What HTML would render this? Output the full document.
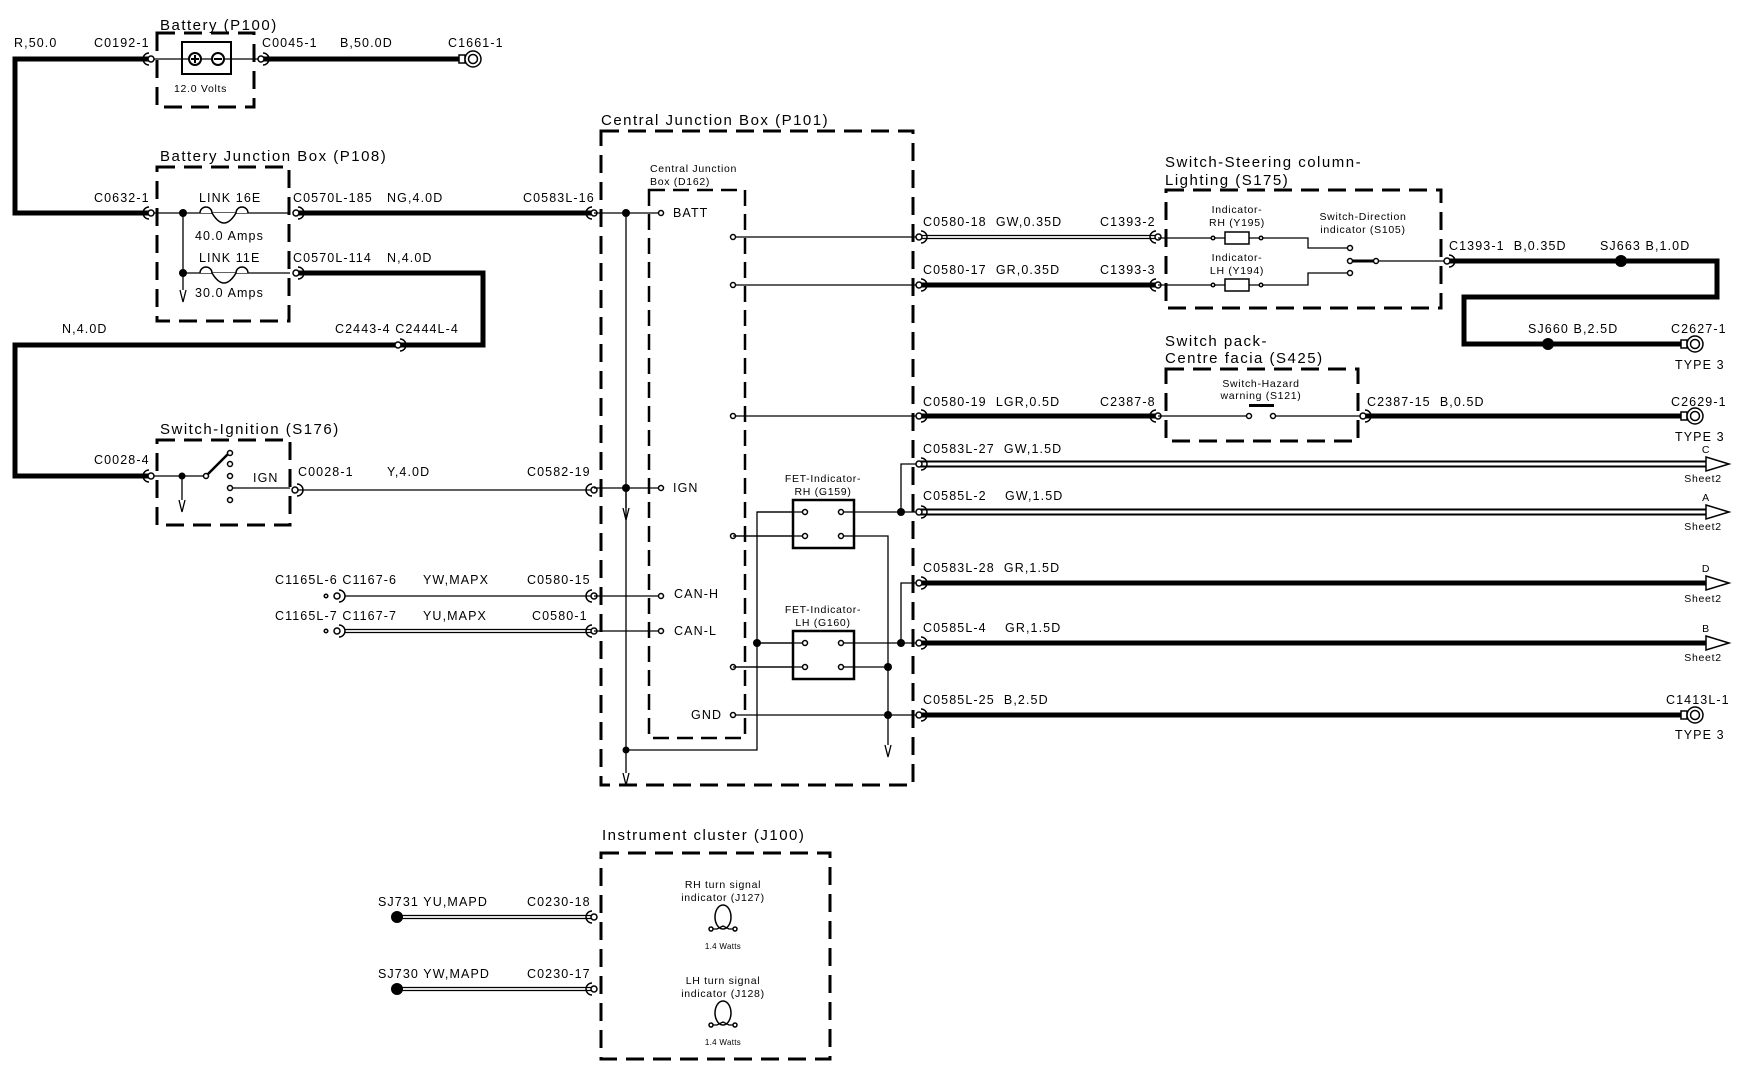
<!DOCTYPE html>
<html><head><meta charset="utf-8"><style>
html,body{margin:0;padding:0;background:#fff;}
svg{display:block;}
text{font-family:"Liberation Sans",Arial,sans-serif;font-size:12.5px;letter-spacing:1.1px;fill:#000;white-space:pre;}
.t{font-size:15px;letter-spacing:1.5px;}
.s{font-size:10.5px;letter-spacing:0.7px;}
.xs{font-size:8px;letter-spacing:0.3px;}
.box{fill:none;stroke:#000;stroke-width:3;stroke-dasharray:18 9;}
.thk{fill:none;stroke:#000;stroke-width:5;}
.thn{fill:none;stroke:#000;stroke-width:1.3;}
.pin{fill:#fff;stroke:#000;stroke-width:1.5;}
.dot{fill:#000;}
</style></head><body>
<svg width="1750" height="1072" viewBox="0 0 1750 1072" xmlns="http://www.w3.org/2000/svg">
<defs>
<g id="cn"><circle cx="0" cy="0" r="3" fill="#fff" stroke="#000" stroke-width="1.5"/><path d="M-2,-6 A6,6 0 0 0 -2,6" fill="none" stroke="#000" stroke-width="1.5"/></g>
<g id="cnr"><circle cx="0" cy="0" r="3" fill="#fff" stroke="#000" stroke-width="1.5"/><path d="M2,-6 A6,6 0 0 1 2,6" fill="none" stroke="#000" stroke-width="1.5"/></g>
<g id="t3"><rect x="-9" y="-4" width="6" height="8" fill="#fff" stroke="#000" stroke-width="1.5"/><circle cx="5" cy="0" r="8" fill="#fff" stroke="#000" stroke-width="1.5"/><circle cx="5" cy="0" r="4.5" fill="none" stroke="#000" stroke-width="1.5"/></g>
<g id="gnd"><path d="M-3,0 L0,12 L3,0" fill="none" stroke="#000" stroke-width="1.3"/></g>
<g id="arr"><path d="M0,-7 L23,0 L0,7 Z" fill="#fff" stroke="#000" stroke-width="1.5"/></g>
</defs>

<!-- Battery -->
<text x="160" y="30" class="t">Battery (P100)</text>
<rect x="157" y="33" width="97" height="74" class="box"/>
<rect x="182" y="42" width="49" height="32" fill="none" stroke="#000" stroke-width="2"/>
<line x1="151" y1="59" x2="261" y2="59" class="thn"/>
<circle cx="195" cy="59" r="6" fill="#fff" stroke="#000" stroke-width="2"/><line x1="191" y1="59" x2="199" y2="59" stroke="#000" stroke-width="2"/><line x1="195" y1="55" x2="195" y2="63" stroke="#000" stroke-width="2"/>
<circle cx="218" cy="59" r="6" fill="#fff" stroke="#000" stroke-width="2"/><line x1="214" y1="59" x2="222" y2="59" stroke="#000" stroke-width="2"/>
<text x="174" y="92" class="s">12.0 Volts</text>
<text x="14" y="47">R,50.0</text><text x="94" y="47">C0192-1</text>
<text x="262" y="47">C0045-1</text><text x="340" y="47">B,50.0D</text><text x="448" y="47">C1661-1</text>
<polyline points="151,59 15,59 15,213 151,213" class="thk"/>
<line x1="261" y1="59" x2="462" y2="59" class="thk"/>
<use href="#cn" x="151" y="59"/><use href="#cnr" x="261" y="59"/><use href="#t3" x="468" y="59"/>

<!-- Battery Junction Box -->
<text x="160" y="161" class="t">Battery Junction Box (P108)</text>
<rect x="157" y="167" width="132" height="154" class="box"/>
<line x1="151" y1="213" x2="290" y2="213" class="thn"/>
<line x1="183" y1="273" x2="290" y2="273" class="thn"/>
<line x1="183" y1="213" x2="183" y2="290" class="thn"/>
<use href="#gnd" x="183" y="290"/>
<circle cx="183" cy="213" r="4" class="dot"/><circle cx="183" cy="273" r="4" class="dot"/>
<path d="M200,213 a6,6 0 1 1 12,0 q12,20 24,0 a6,6 0 1 1 12,0" fill="#fff" stroke="#000" stroke-width="1.5"/>
<path d="M200,273 a6,6 0 1 1 12,0 q12,20 24,0 a6,6 0 1 1 12,0" fill="#fff" stroke="#000" stroke-width="1.5"/>
<text x="199" y="202">LINK 16E</text><text x="195" y="240">40.0 Amps</text>
<text x="199" y="262">LINK 11E</text><text x="195" y="297">30.0 Amps</text>
<text x="94" y="202">C0632-1</text>
<text x="293" y="202">C0570L-185</text><text x="387" y="202">NG,4.0D</text><text x="523" y="202">C0583L-16</text>
<text x="293" y="262">C0570L-114</text><text x="387" y="262">N,4.0D</text>
<line x1="296" y1="213" x2="594" y2="213" class="thk"/>
<polyline points="296,273 483,273 483,345 400,345" class="thk"/>
<polyline points="396,345 15,345 15,476 151,476" class="thk"/>
<use href="#cn" x="151" y="213"/><use href="#cnr" x="296" y="213"/><use href="#cnr" x="296" y="273"/><use href="#cn" x="594" y="213"/>
<use href="#cnr" x="398" y="345"/>
<text x="62" y="333">N,4.0D</text><text x="335" y="333">C2443-4 C2444L-4</text>

<!-- Switch ignition -->
<text x="160" y="434" class="t">Switch-Ignition (S176)</text>
<rect x="157" y="440" width="133" height="85" class="box"/>
<line x1="151" y1="476" x2="206" y2="476" class="thn"/>
<line x1="182" y1="476" x2="182" y2="500" class="thn"/><use href="#gnd" x="182" y="500"/>
<circle cx="182" cy="476" r="3.5" class="dot"/>
<line x1="206" y1="476" x2="230" y2="452" stroke="#000" stroke-width="2.5"/>
<circle cx="206" cy="476" r="2.5" class="pin"/>
<circle cx="230" cy="453" r="2.5" class="pin"/><circle cx="230" cy="464" r="2.5" class="pin"/><circle cx="230" cy="476" r="2.5" class="pin"/><circle cx="230" cy="488" r="2.5" class="pin"/><circle cx="230" cy="500" r="2.5" class="pin"/>
<line x1="233" y1="488" x2="290" y2="488" class="thn"/>
<text x="253" y="482">IGN</text>
<text x="94" y="464">C0028-4</text>
<text x="298" y="476">C0028-1</text><text x="387" y="476">Y,4.0D</text><text x="527" y="476">C0582-19</text>
<line x1="295" y1="490" x2="594" y2="490" class="thn"/>
<use href="#cn" x="151" y="476"/><use href="#cnr" x="295" y="490"/><use href="#cn" x="594" y="490"/>

<!-- CAN -->
<text x="275" y="584">C1165L-6 C1167-6</text><text x="423" y="584">YW,MAPX</text><text x="527" y="584">C0580-15</text>
<text x="275" y="620">C1165L-7 C1167-7</text><text x="423" y="620">YU,MAPX</text><text x="532" y="620">C0580-1</text>
<line x1="345" y1="596" x2="594" y2="596" class="thn"/>
<line x1="345" y1="629.5" x2="594" y2="629.5" class="thn"/><line x1="345" y1="632.5" x2="594" y2="632.5" class="thn"/>
<use href="#cnr" x="337" y="596"/><use href="#cnr" x="337" y="631"/>
<circle cx="326" cy="596" r="1.8" class="pin"/><circle cx="326" cy="631" r="1.8" class="pin"/>
<use href="#cn" x="594" y="596"/><use href="#cn" x="594" y="631"/>

<!-- Central Junction Box -->
<text x="601" y="125" class="t">Central Junction Box (P101)</text>
<rect x="601" y="131" width="312" height="654" class="box"/>
<rect x="649" y="190" width="96" height="548" class="box" style="stroke-width:2.5;stroke-dasharray:16 8"/>
<text x="650" y="172" class="s">Central Junction</text><text x="650" y="185" class="s">Box (D162)</text>
<line x1="594" y1="213" x2="661" y2="213" class="thn"/>
<line x1="626" y1="213" x2="626" y2="773" class="thn"/><use href="#gnd" x="626" y="773"/>
<line x1="594" y1="488" x2="661" y2="488" class="thn"/>
<line x1="626" y1="488" x2="626" y2="508" class="thn"/><use href="#gnd" x="626" y="508"/>
<line x1="594" y1="596" x2="661" y2="596" class="thn"/>
<line x1="594" y1="631" x2="661" y2="631" class="thn"/>
<circle cx="626" cy="213" r="4" class="dot"/><circle cx="626" cy="488" r="4" class="dot"/><circle cx="626" cy="750" r="3.5" class="dot"/>
<circle cx="661" cy="213" r="2.5" class="pin"/><circle cx="661" cy="488" r="2.5" class="pin"/><circle cx="661" cy="596" r="2.5" class="pin"/><circle cx="661" cy="631" r="2.5" class="pin"/>
<text x="673" y="217">BATT</text><text x="673" y="492">IGN</text><text x="674" y="598">CAN-H</text><text x="674" y="635">CAN-L</text><text x="691" y="719">GND</text>
<line x1="733" y1="237" x2="919" y2="237" class="thn"/>
<line x1="733" y1="285" x2="919" y2="285" class="thn"/>
<line x1="733" y1="416" x2="919" y2="416" class="thn"/>
<line x1="733" y1="536" x2="805" y2="536" class="thn"/>
<line x1="733" y1="667" x2="805" y2="667" class="thn"/>
<line x1="733" y1="715" x2="919" y2="715" class="thn"/>
<circle cx="733" cy="237" r="2.5" class="pin"/><circle cx="733" cy="285" r="2.5" class="pin"/><circle cx="733" cy="416" r="2.5" class="pin"/><circle cx="733" cy="536" r="2.5" class="pin"/><circle cx="733" cy="667" r="2.5" class="pin"/><circle cx="733" cy="715" r="2.5" class="pin"/>
<polyline points="626,750 757,750 757,512 805,512" class="thn"/>
<line x1="757" y1="643" x2="805" y2="643" class="thn"/>
<line x1="841" y1="512" x2="919" y2="512" class="thn"/>
<polyline points="901,512 901,464 919,464" class="thn"/>
<line x1="841" y1="643" x2="919" y2="643" class="thn"/>
<polyline points="901,643 901,583 919,583" class="thn"/>
<polyline points="841,536 888,536 888,745" class="thn"/><use href="#gnd" x="888" y="745"/>
<line x1="841" y1="667" x2="888" y2="667" class="thn"/>
<rect x="793" y="500" width="61" height="48" fill="#fff" stroke="#000" stroke-width="2.5"/>
<rect x="793" y="631" width="61" height="48" fill="#fff" stroke="#000" stroke-width="2.5"/>
<line x1="757" y1="512" x2="805" y2="512" class="thn"/><line x1="733" y1="536" x2="805" y2="536" class="thn"/>
<line x1="757" y1="643" x2="805" y2="643" class="thn"/><line x1="733" y1="667" x2="805" y2="667" class="thn"/>
<line x1="841" y1="512" x2="854" y2="512" class="thn"/><line x1="841" y1="536" x2="854" y2="536" class="thn"/>
<line x1="841" y1="643" x2="854" y2="643" class="thn"/><line x1="841" y1="667" x2="854" y2="667" class="thn"/>
<circle cx="805" cy="512" r="2.5" class="pin"/><circle cx="841" cy="512" r="2.5" class="pin"/><circle cx="805" cy="536" r="2.5" class="pin"/><circle cx="841" cy="536" r="2.5" class="pin"/>
<circle cx="805" cy="643" r="2.5" class="pin"/><circle cx="841" cy="643" r="2.5" class="pin"/><circle cx="805" cy="667" r="2.5" class="pin"/><circle cx="841" cy="667" r="2.5" class="pin"/>
<circle cx="901" cy="512" r="4" class="dot"/><circle cx="901" cy="643" r="4" class="dot"/><circle cx="757" cy="643" r="4" class="dot"/><circle cx="888" cy="667" r="4" class="dot"/><circle cx="888" cy="715" r="4" class="dot"/>
<text x="823" y="482" class="s" text-anchor="middle">FET-Indicator-</text><text x="823" y="495" class="s" text-anchor="middle">RH (G159)</text>
<text x="823" y="613" class="s" text-anchor="middle">FET-Indicator-</text><text x="823" y="626" class="s" text-anchor="middle">LH (G160)</text>

<!-- Right wires from CJB -->
<line x1="919" y1="235.5" x2="1158" y2="235.5" class="thn"/><line x1="919" y1="238.5" x2="1158" y2="238.5" class="thn"/>
<line x1="919" y1="285" x2="1158" y2="285" class="thk"/>
<line x1="919" y1="416" x2="1158" y2="416" class="thk"/>
<line x1="919" y1="461.5" x2="1712" y2="461.5" stroke="#000" stroke-width="2"/><line x1="919" y1="466.5" x2="1712" y2="466.5" stroke="#000" stroke-width="2"/>
<line x1="919" y1="509.5" x2="1712" y2="509.5" stroke="#000" stroke-width="2"/><line x1="919" y1="514.5" x2="1712" y2="514.5" stroke="#000" stroke-width="2"/>
<line x1="919" y1="583" x2="1712" y2="583" class="thk"/>
<line x1="919" y1="643" x2="1712" y2="643" class="thk"/>
<line x1="919" y1="715" x2="1682" y2="715" class="thk"/>
<use href="#cnr" x="919" y="237"/><use href="#cnr" x="919" y="285"/><use href="#cnr" x="919" y="416"/><use href="#cnr" x="919" y="464"/><use href="#cnr" x="919" y="512"/><use href="#cnr" x="919" y="583"/><use href="#cnr" x="919" y="643"/><use href="#cnr" x="919" y="715"/>
<use href="#cn" x="1158" y="237"/><use href="#cn" x="1158" y="285"/><use href="#cn" x="1158" y="416"/>
<text x="923" y="226">C0580-18  GW,0.35D</text><text x="923" y="274">C0580-17  GR,0.35D</text><text x="923" y="406">C0580-19  LGR,0.5D</text>
<text x="923" y="453">C0583L-27  GW,1.5D</text><text x="923" y="500">C0585L-2    GW,1.5D</text>
<text x="923" y="572">C0583L-28  GR,1.5D</text><text x="923" y="632">C0585L-4    GR,1.5D</text><text x="923" y="704">C0585L-25  B,2.5D</text>
<text x="1100" y="226">C1393-2</text><text x="1100" y="274">C1393-3</text><text x="1100" y="406">C2387-8</text>
<use href="#arr" x="1706" y="464"/><use href="#arr" x="1706" y="512"/><use href="#arr" x="1706" y="583"/><use href="#arr" x="1706" y="643"/>
<text x="1706" y="453" class="s" text-anchor="middle">C</text><text x="1706" y="501" class="s" text-anchor="middle">A</text><text x="1706" y="572" class="s" text-anchor="middle">D</text><text x="1706" y="632" class="s" text-anchor="middle">B</text>
<text x="1703" y="482" class="s" text-anchor="middle">Sheet2</text><text x="1703" y="530" class="s" text-anchor="middle">Sheet2</text><text x="1703" y="602" class="s" text-anchor="middle">Sheet2</text><text x="1703" y="661" class="s" text-anchor="middle">Sheet2</text>
<use href="#t3" x="1690" y="715"/>
<text x="1666" y="704">C1413L-1</text><text x="1675" y="739">TYPE 3</text>

<!-- S175 -->
<text x="1165" y="167" class="t">Switch-Steering column-</text><text x="1165" y="185" class="t">Lighting (S175)</text>
<rect x="1166" y="190" width="275" height="118" class="box"/>
<polyline points="1158,238 1225,238" class="thn"/><polyline points="1249,238 1308,238 1308,248 1350,248" class="thn"/>
<polyline points="1158,285 1225,285" class="thn"/><polyline points="1249,285 1308,285 1308,273 1350,273" class="thn"/>
<rect x="1225" y="232" width="24" height="12" fill="#fff" stroke="#000" stroke-width="1.5"/>
<rect x="1225" y="279" width="24" height="12" fill="#fff" stroke="#000" stroke-width="1.5"/>
<circle cx="1213" cy="238" r="1.8" class="pin"/><circle cx="1261" cy="238" r="1.8" class="pin"/><circle cx="1213" cy="285" r="1.8" class="pin"/><circle cx="1261" cy="285" r="1.8" class="pin"/>
<line x1="1350" y1="261" x2="1376" y2="261" stroke="#000" stroke-width="3"/>
<line x1="1376" y1="261" x2="1447" y2="261" class="thn"/>
<circle cx="1350" cy="248" r="2.5" class="pin"/><circle cx="1350" cy="261" r="2.5" class="pin"/><circle cx="1350" cy="273" r="2.5" class="pin"/><circle cx="1376" cy="261" r="2.5" class="pin"/>
<text x="1237" y="213" class="s" text-anchor="middle">Indicator-</text><text x="1237" y="226" class="s" text-anchor="middle">RH (Y195)</text>
<text x="1237" y="261" class="s" text-anchor="middle">Indicator-</text><text x="1237" y="274" class="s" text-anchor="middle">LH (Y194)</text>
<text x="1363" y="220" class="s" text-anchor="middle">Switch-Direction</text><text x="1363" y="233" class="s" text-anchor="middle">indicator (S105)</text>
<polyline points="1447,261 1717,261 1717,297 1464,297 1464,344 1682,344" class="thk"/>
<use href="#cnr" x="1447" y="261"/><use href="#t3" x="1690" y="344"/>
<circle cx="1621" cy="261" r="6" class="dot"/><circle cx="1548" cy="344" r="6" class="dot"/>
<text x="1449" y="250">C1393-1  B,0.35D</text><text x="1600" y="250">SJ663 B,1.0D</text>
<text x="1528" y="333">SJ660 B,2.5D</text><text x="1671" y="333">C2627-1</text><text x="1675" y="369">TYPE 3</text>

<!-- S425 -->
<text x="1165" y="346" class="t">Switch pack-</text><text x="1165" y="363" class="t">Centre facia (S425)</text>
<rect x="1166" y="369" width="192" height="72" class="box"/>
<line x1="1158" y1="416" x2="1249" y2="416" class="thn"/><line x1="1273" y1="416" x2="1363" y2="416" class="thn"/>
<circle cx="1249" cy="416" r="2.5" class="pin"/><circle cx="1273" cy="416" r="2.5" class="pin"/>
<rect x="1249" y="404" width="25" height="3" class="dot"/>
<text x="1261" y="387" class="s" text-anchor="middle">Switch-Hazard</text><text x="1261" y="399" class="s" text-anchor="middle">warning (S121)</text>
<line x1="1363" y1="416" x2="1682" y2="416" class="thk"/>
<use href="#cnr" x="1363" y="416"/><use href="#t3" x="1690" y="416"/>
<text x="1367" y="406">C2387-15  B,0.5D</text><text x="1671" y="406">C2629-1</text><text x="1675" y="441">TYPE 3</text>

<!-- Instrument cluster -->
<text x="602" y="840" class="t">Instrument cluster (J100)</text>
<rect x="601" y="853" width="229" height="206" class="box"/>
<line x1="397" y1="915.5" x2="594" y2="915.5" class="thn"/><line x1="397" y1="918.5" x2="594" y2="918.5" class="thn"/>
<line x1="397" y1="987.5" x2="594" y2="987.5" class="thn"/><line x1="397" y1="990.5" x2="594" y2="990.5" class="thn"/>
<circle cx="397" cy="917" r="6" class="dot"/><circle cx="397" cy="989" r="6" class="dot"/>
<use href="#cn" x="594" y="917"/><use href="#cn" x="594" y="989"/>
<text x="378" y="906">SJ731 YU,MAPD</text><text x="527" y="906">C0230-18</text>
<text x="378" y="978">SJ730 YW,MAPD</text><text x="527" y="978">C0230-17</text>
<text x="723" y="888" class="s" text-anchor="middle">RH turn signal</text><text x="723" y="901" class="s" text-anchor="middle">indicator (J127)</text>
<ellipse cx="723" cy="917" rx="8" ry="12" fill="none" stroke="#000" stroke-width="1.5"/>
<path d="M712,929 L717,929 L723,926 L729,929 L734,929" fill="none" stroke="#000" stroke-width="1.3"/>
<circle cx="711" cy="929" r="2" class="pin"/><circle cx="735" cy="929" r="2" class="pin"/>
<text x="723" y="949" class="xs" text-anchor="middle">1.4 Watts</text>
<text x="723" y="984" class="s" text-anchor="middle">LH turn signal</text><text x="723" y="997" class="s" text-anchor="middle">indicator (J128)</text>
<ellipse cx="723" cy="1013" rx="8" ry="12" fill="none" stroke="#000" stroke-width="1.5"/>
<path d="M712,1025 L717,1025 L723,1022 L729,1025 L734,1025" fill="none" stroke="#000" stroke-width="1.3"/>
<circle cx="711" cy="1025" r="2" class="pin"/><circle cx="735" cy="1025" r="2" class="pin"/>
<text x="723" y="1045" class="xs" text-anchor="middle">1.4 Watts</text>
</svg>
</body></html>
